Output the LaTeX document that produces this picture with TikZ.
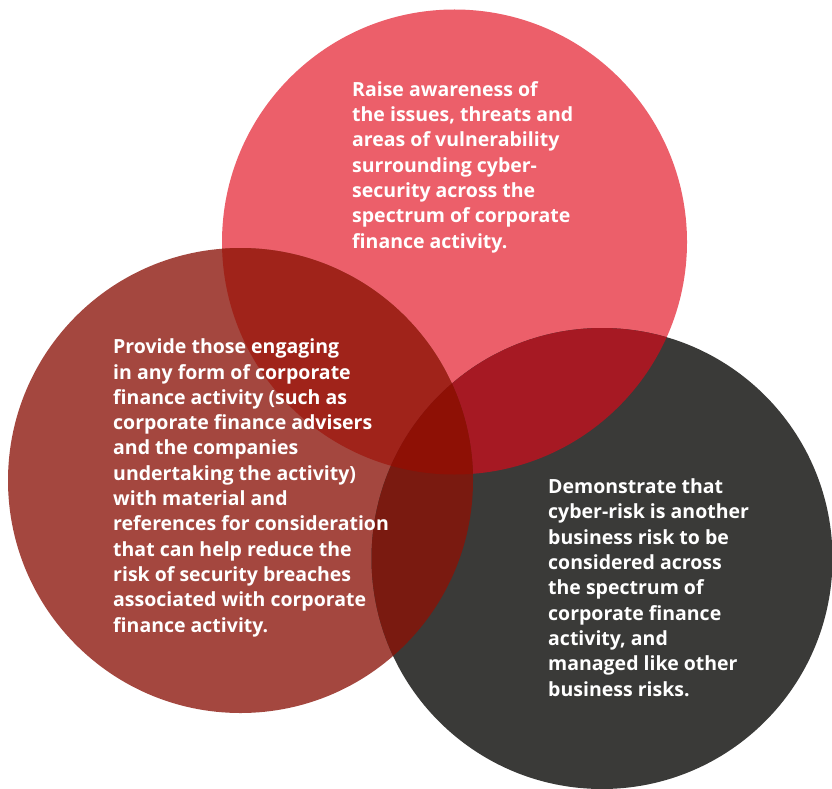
\documentclass[tikz,border=0pt]{standalone}
\usepackage{fontspec}
\setmainfont{Open Sans}
\tikzset{
  blurb/.style={anchor=base west, inner sep=0pt, align=left, text=white,
    font=\fontsize{19.5}{25.3}\selectfont\bfseries},
}
\definecolor{ctop}{HTML}{EC5F6A}
\definecolor{cleft}{HTML}{A4473F}
\definecolor{cright}{HTML}{3A3A38}
\definecolor{ctl}{HTML}{A0231A}
\definecolor{ctr}{HTML}{A61923}
\definecolor{clr}{HTML}{7A1A10}
\definecolor{call}{HTML}{8E1005}
\begin{document}
\begin{tikzpicture}[x=1pt,y=-1pt]
\useasboundingbox (0,0) rectangle (832,789);
\fill[white] (0,0) rectangle (832,789);
\def\TopC{(454.5,242) circle[radius=232.5]}
\def\LeftC{(240.5,480.5) circle[radius=232.5]}
\def\RightC{(602,558.5) circle[radius=230.5]}
\fill[ctop] \TopC;
\fill[cleft] \LeftC;
\fill[cright] \RightC;
\begin{scope}
  \clip \TopC;
  \fill[ctl] \LeftC;
  \fill[ctr] \RightC;
\end{scope}
\begin{scope}
  \clip \LeftC;
  \fill[clr] \RightC;
  \clip \RightC;
  \fill[call] \TopC;
\end{scope}
\node[blurb] (t1) at (352,248) {Raise awareness of\\the issues, threats and\\areas of vulnerability\\surrounding cyber-\\security across the\\spectrum of corporate\\finance activity.};
\node[blurb] (t2) at (113,632) {Provide those engaging\\in any form of corporate\\finance activity (such as\\corporate finance advisers\\and the companies\\undertaking the activity)\\with material and\\references for consideration\\that can help reduce the\\risk of security breaches\\associated with corporate\\finance activity.};
\node[blurb] (t3) at (548,696) {Demonstrate that\\cyber-risk is another\\business risk to be\\considered across\\the spectrum of\\corporate finance\\activity, and\\managed like other\\business risks.};
\end{tikzpicture}
\end{document}
